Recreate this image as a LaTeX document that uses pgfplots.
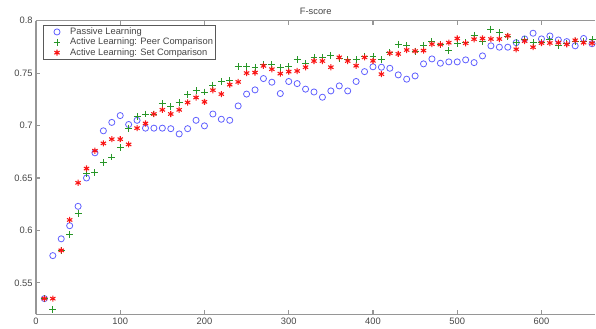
\documentclass[border=0pt]{standalone}
\usepackage{fontspec}
\setmainfont{Liberation Sans}
\usepackage{pgfplots}
\usepackage{pgfplotstable}
\pgfplotsset{compat=1.18}
\definecolor{pblue}{RGB}{95,95,255}
\definecolor{pgreen}{RGB}{40,150,40}
\definecolor{pred}{RGB}{250,20,20}
\definecolor{axgray}{RGB}{150,150,150}
\definecolor{txtgray}{RGB}{70,70,70}

\pgfplotstableread{
x   passive  peer    set
10  0.535    0.535   0.535
20  0.576    0.5245  0.535
30  0.592    0.581   0.581
40  0.6045   0.596   0.610
50  0.623    0.616   0.6454
60  0.650    0.654   0.659
70  0.674    0.655   0.676
80  0.695    0.665   0.683
90  0.703    0.670   0.687
100 0.7095   0.679   0.687
110 0.701    0.6975  0.682
120 0.705    0.7085  0.6975
130 0.6975   0.711   0.702
140 0.6975   0.711   0.711
150 0.6975   0.7207  0.715
160 0.697    0.718   0.711
170 0.692    0.722   0.715
180 0.697    0.7295  0.722
190 0.705    0.733   0.7267
200 0.6997   0.732   0.7226
210 0.711    0.7385  0.7337
220 0.706    0.7416  0.730
230 0.705    0.743   0.739
240 0.7187   0.756   0.7416
250 0.730    0.756   0.750
260 0.734    0.7556  0.7505
270 0.7448   0.758   0.7569
280 0.7413   0.758   0.7537
290 0.7305   0.7556  0.7495
300 0.742    0.756   0.7514
310 0.740    0.7626  0.752
320 0.7347   0.759   0.7556
330 0.732    0.7645  0.7615
340 0.727    0.765   0.7615
350 0.733    0.767   0.7556
360 0.7378   0.764   0.765
370 0.733    0.7626  0.7615
380 0.742    0.7626  0.757
390 0.7514   0.766   0.765
400 0.756    0.7657  0.7617
410 0.7556   0.7626  0.749
420 0.7546   0.7696  0.769
430 0.7483   0.7775  0.7683
440 0.7442   0.7762  0.772
450 0.7473   0.771   0.771
460 0.7588   0.776   0.7715
470 0.7635   0.780   0.7776
480 0.7594   0.777   0.7772
490 0.7607   0.7714  0.779
500 0.7607   0.7785  0.783
510 0.7626   0.779   0.7785
520 0.760    0.786   0.7823
530 0.7664   0.780   0.783
540 0.776    0.792   0.7825
550 0.7747   0.7886  0.7825
560 0.7747   0.785   0.7855
570 0.779    0.779   0.7727
580 0.7826   0.782   0.7805
590 0.788    0.779   0.7747
600 0.7826   0.779   0.7787
610 0.7854   0.7816  0.7787
620 0.7816   0.776   0.779
630 0.780    0.778   0.7775
640 0.776    0.780   0.7813
650 0.783    0.780   0.779
660 0.778    0.782   0.7785
}\datatable

\begin{document}
\begin{tikzpicture}
\begin{axis}[
  scale only axis,
  width=420pt, height=220.5pt,
  xmin=0, xmax=664, ymin=0.52, ymax=0.8,
  axis x line*=box, axis y line*=left,
  xtick={0,100,...,600},
  ytick={0.55,0.6,0.65,0.7,0.75,0.8},
  tick align=inside,
  major tick length=3pt,
  axis line style={axgray, line width=0.9pt},
  every tick/.style={axgray, line width=0.8pt},
  tick label style={font=\fontsize{7}{7}\selectfont, text=txtgray},
  /pgf/number format/assume math mode=true,
  xticklabel style={yshift=1pt},
  yticklabel style={xshift=1pt},
  title={F-score},
  every axis title/.style={font=\fontsize{7}{7}\selectfont, text=txtgray, at={(0.5,1)}, anchor=south, inner sep=0pt, yshift=4.3pt},
  legend cell align=left,
  legend image code/.code={%
    \path[draw=none] (0pt,0pt) -- (18pt,0pt);
    \draw[#1] plot coordinates {(9pt,0pt)};},
  legend style={at={(axis description cs:0.0138,0.985)}, anchor=north west,
    draw=black!65, line width=0.6pt, inner sep=1pt, outer sep=0pt,
    font=\fontsize{7}{7}\selectfont, text=txtgray,
    nodes={inner sep=0.9pt, text=txtgray},
    row sep=-0.6pt},
]
\addplot[only marks, mark=o, mark size=2.3pt, pblue, line width=0.6pt] table[x=x, y=passive] {\datatable};
\addlegendentry{Passive Learning}
\addplot[only marks, mark=+, mark size=2.6pt, pgreen, line width=0.7pt] table[x=x, y=peer] {\datatable};
\addlegendentry{Active Learning: Peer Comparison}
\addplot[only marks, mark=asterisk, mark size=2.3pt, pred, line width=0.8pt] table[x=x, y=set] {\datatable};
\addlegendentry{Active Learning: Set Comparison\hspace{6pt}}
\end{axis}
\path[use as bounding box] ([xshift=-27pt,yshift=-10.5pt]current axis.south west) rectangle ([yshift=15.5pt]current axis.north east);
\end{tikzpicture}
\end{document}
